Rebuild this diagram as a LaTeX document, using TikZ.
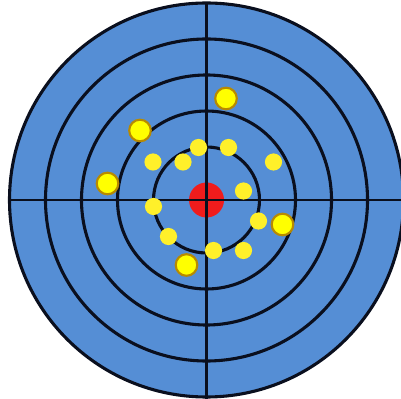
\documentclass[tikz,border=0pt]{standalone}
\usepackage{xcolor}
\definecolor{boardblue}{HTML}{558ED5}
\definecolor{ringink}{HTML}{0A0F1E}
\definecolor{bullred}{HTML}{F01C1C}
\definecolor{shotyellow}{HTML}{FFF02A}
\definecolor{hityellow}{HTML}{FFFF00}
\definecolor{hitgold}{HTML}{B88A00}
\tikzset{
ring/.style={draw=ringink,line width=2.2pt},
crossline/.style={draw=ringink,line width=1.5pt},
bull/.style={fill=bullred},
shot/.style={fill=shotyellow},
hit/.style={fill=hityellow,draw=hitgold,line width=1.5pt}}
\begin{document}
\begin{tikzpicture}[x=0.025cm,y=-0.025cm]
\useasboundingbox (0,0) rectangle (401,399);
\coordinate (c) at (206.5,200);
% board
\fill[boardblue] (c) circle[radius=197];
\foreach \r in {197,161,125,89,53}
  \draw[ring] (c) circle[radius=\r];
\fill[bull] (c) circle[radius=17.5];
\coordinate (top) at (206.5,3);
\coordinate (bottom) at (206.5,399);
\coordinate (left) at (9,200);
\coordinate (right) at (401,200);
\draw[crossline] (top) -- (bottom);
\draw[crossline] (left) -- (right);
% shots
\foreach \x/\y in {153/162,183/162,198.5/147.5,228.5/147.5,273.5/162,243.5/191,
  153.5/206.5,258.5/221,168.5/236.5,213.5/250.5,243.5/250.5}
  \fill[shot] (\x,\y) circle[radius=8.6];
\foreach \x/\y in {226/98.5,140/130.5,107.5/183.5,282.5/224.5,186.5/265}
  \filldraw[hit] (\x,\y) circle[radius=10.8];
\end{tikzpicture}
\end{document}
